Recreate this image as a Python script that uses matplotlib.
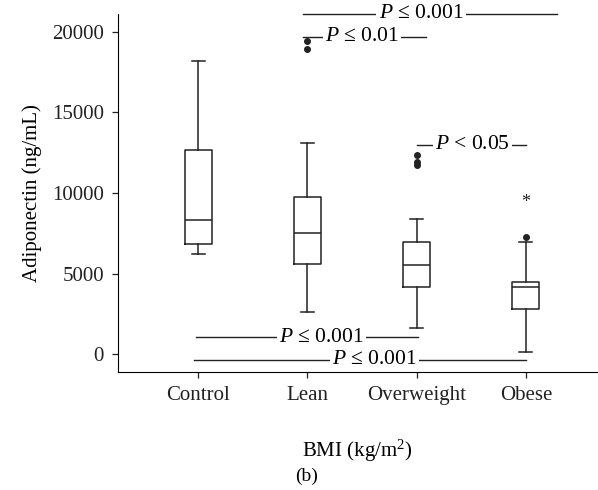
import matplotlib
matplotlib.use("Agg")
import matplotlib.pyplot as plt

plt.rcParams['font.family'] = ['Liberation Serif', 'DejaVu Serif']
plt.rcParams['mathtext.fontset'] = 'custom'
plt.rcParams['mathtext.rm'] = 'Liberation Serif'
plt.rcParams['mathtext.it'] = 'Liberation Serif:italic'

# groups and box stats
groups = ['Control', 'Lean', 'Overweight', 'Obese']
whislo = [6250, 2600, 1650, 120]
q1 = [6850, 5600, 4150, 2780]
med = [8330, 7500, 5520, 4190]
q3 = [12680, 9750, 6990, 4510]
whishi = [18200, 13090, 8410, 6990]
fliers = [[], [19440, 18900], [12350, 11900, 11750], [7280]]
extremes = [[], [], [], [9440]]

# significance bars: (y, x from, x to, label, label x)
sig_y = [21120, 19680, 12990, 1050, -330]
sig_x0 = [0.96, 0.96, 2.0, -0.02, -0.04]
sig_x1 = [3.29, 2.09, 3.0, 2.01, 3.0]
sig_lab = [r'$P$ ≤ 0.001', r'$P$ ≤ 0.01', r'$P$ < 0.05', r'$P$ ≤ 0.001', r'$P$ ≤ 0.001']
sig_tx = [2.04, 1.50, 2.51, 1.13, 1.61]

fig = plt.figure(figsize=(5.98, 4.90), dpi=100)
ax = fig.add_axes([0.197, 0.2414, 0.801, 0.731])

stats = []
for i, g in enumerate(groups):
    stats.append(dict(label=g, whislo=whislo[i], q1=q1[i], med=med[i],
                      q3=q3[i], whishi=whishi[i], fliers=fliers[i]))

line = dict(color='#222222', linewidth=1.1)
ax.bxp(stats, positions=range(len(groups)), widths=0.25, capwidths=0.12,
       boxprops=line, whiskerprops=line, capprops=line, medianprops=line,
       flierprops=dict(marker='o', markerfacecolor='#222222',
                       markeredgecolor='#222222', markersize=4))

# far outliers drawn as asterisks
for i, vals in enumerate(extremes):
    for v in vals:
        ax.text(i, v, '*', ha='center', va='center', fontsize=13, color='#222222')

# significance lines with the p-value sitting in a gap
for y, a, b, lab, tx in zip(sig_y, sig_x0, sig_x1, sig_lab, sig_tx):
    ax.plot([a, b], [y, y], color='#222222', linewidth=1.0, clip_on=False)
    ax.text(tx, y, lab, ha='center', va='center', fontsize=15.5, clip_on=False,
            bbox=dict(facecolor='white', edgecolor='none', pad=1.5))

ax.set_xlim(-0.737, 3.65)
ax.set_ylim(-1080, 21130)
ax.set_yticks([0, 5000, 10000, 15000, 20000])
ax.set_xticks(range(len(groups)))
ax.set_xticklabels(groups)
ax.tick_params(labelsize=15, length=4, width=0.9, colors='#222222', pad=6)
ax.spines['top'].set_visible(False)
ax.spines['right'].set_visible(False)
ax.set_ylabel('Adiponectin (ng/mL)', fontsize=15, labelpad=7)
ax.set_xlabel('BMI (kg/m$^2$)', fontsize=15, labelpad=24)

fig.text(0.513, 0.027, '(b)', ha='center', va='center', fontsize=14)

fig.savefig('out.png', dpi=100)
